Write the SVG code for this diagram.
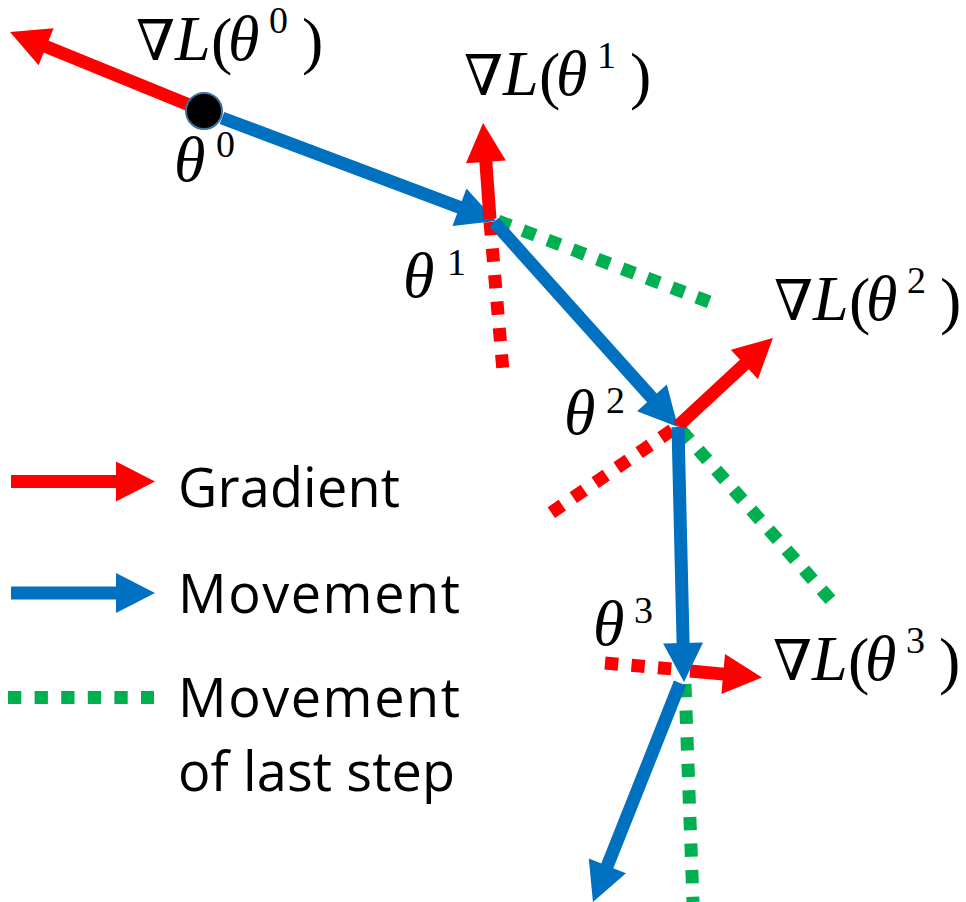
<svg xmlns="http://www.w3.org/2000/svg" width="966" height="902" viewBox="0 0 966 902">
<defs>
<style>
.grad{stroke:#FF0000;stroke-width:13;fill:none;marker-end:url(#hr)}
.move{stroke:#0070C0;stroke-width:13;fill:none;marker-end:url(#hb)}
.rdot{stroke:#FF0000;stroke-width:13;fill:none;stroke-dasharray:13.3 13.3}
.gdot{stroke:#00B050;stroke-width:13;fill:none;stroke-dasharray:13.3 13.3}
.math{font-family:"Liberation Serif","DejaVu Serif",serif;font-style:italic;font-size:64px;fill:#000}
.nab{font-family:"DejaVu Serif",serif;font-size:56px;font-style:italic}
.up{font-style:normal}
.sup{font-size:38px;font-style:normal}
.leg{font-family:"Open Sans","Liberation Sans",sans-serif;font-size:54px;fill:#000}
</style>
<marker id="hr" markerUnits="userSpaceOnUse" markerWidth="40" markerHeight="40" viewBox="0 0 39 40" refX="1" refY="20" orient="auto"><path d="M0,0 L39,20 L0,40 z" fill="#FF0000"/></marker>
<marker id="hb" markerUnits="userSpaceOnUse" markerWidth="40" markerHeight="40" viewBox="0 0 39 40" refX="1" refY="20" orient="auto"><path d="M0,0 L39,20 L0,40 z" fill="#0070C0"/></marker>
</defs>
<rect width="966" height="902" fill="#FFFFFF"/>
<g id="connectors">
<line class="rdot" x1="490" y1="222" x2="503" y2="371"/>
<line class="gdot" x1="498" y1="221" x2="712" y2="303"/>
<line class="rdot" x1="672" y1="430" x2="548" y2="515"/>
<line class="gdot" x1="681" y1="430" x2="836" y2="606"/>
<line class="rdot" x1="605" y1="663" x2="684" y2="670"/>
<line class="gdot" x1="685" y1="684" x2="693" y2="902"/>
<line class="grad" x1="204" y1="111" x2="45.2" y2="46.3"/>
<line class="move" x1="222" y1="118" x2="460.4" y2="207.6"/>
<line class="move" x1="494" y1="222" x2="652.6" y2="398.7"/>
<line class="grad" x1="490" y1="219" x2="485.8" y2="160.9"/>
<line class="grad" x1="678" y1="426" x2="745.1" y2="363.8"/>
<line class="grad" x1="690" y1="671" x2="724.2" y2="674.1"/>
<line class="move" x1="678" y1="427" x2="683.1" y2="644"/>
<line class="move" x1="680" y1="683" x2="607" y2="866.7"/>
</g>
<g id="theta0">
<circle cx="204" cy="111" r="18" fill="#000000" stroke="#41719C" stroke-width="2"/>
<text class="math"><tspan x="174" y="181">θ</tspan><tspan class="sup" x="216" y="157">0</tspan></text>
</g>
<g id="grad0-label">
<text class="math"><tspan class="nab" x="136" y="60">∇</tspan><tspan x="175" y="60">L</tspan><tspan class="up" x="211" y="62">(</tspan><tspan x="228" y="60">θ</tspan><tspan class="sup" x="269" y="33">0</tspan><tspan class="up" x="302" y="62">)</tspan></text>
</g>
<g id="theta1">
<text class="math"><tspan x="403" y="297">θ</tspan><tspan class="sup" x="447" y="275">1</tspan></text>
</g>
<g id="grad1-label" transform="translate(328,35)">
<text class="math"><tspan class="nab" x="136" y="60">∇</tspan><tspan x="175" y="60">L</tspan><tspan class="up" x="211" y="62">(</tspan><tspan x="228" y="60">θ</tspan><tspan class="sup" x="269" y="33">1</tspan><tspan class="up" x="302" y="62">)</tspan></text>
</g>
<g id="theta2">
<text class="math"><tspan x="564" y="434">θ</tspan><tspan class="sup" x="606" y="413">2</tspan></text>
</g>
<g id="grad2-label" transform="translate(638,260)">
<text class="math"><tspan class="nab" x="136" y="60">∇</tspan><tspan x="175" y="60">L</tspan><tspan class="up" x="211" y="62">(</tspan><tspan x="228" y="60">θ</tspan><tspan class="sup" x="269" y="33">2</tspan><tspan class="up" x="302" y="62">)</tspan></text>
</g>
<g id="theta3">
<text class="math"><tspan x="593" y="645">θ</tspan><tspan class="sup" x="634" y="623">3</tspan></text>
</g>
<g id="grad3-label" transform="translate(637,620)">
<text class="math"><tspan class="nab" x="136" y="60">∇</tspan><tspan x="175" y="60">L</tspan><tspan class="up" x="211" y="62">(</tspan><tspan x="228" y="60">θ</tspan><tspan class="sup" x="269" y="33">3</tspan><tspan class="up" x="302" y="62">)</tspan></text>
</g>
<g id="legend">
<line class="grad" x1="11" y1="481.5" x2="117" y2="481.5"/>
<text class="leg" x="178" y="507" textLength="222">Gradient</text>
<line class="move" x1="11" y1="593" x2="117" y2="593"/>
<text class="leg" x="178" y="613" textLength="282">Movement</text>
<line class="gdot" x1="8" y1="697.5" x2="154" y2="697.5"/>
<text class="leg" x="178" y="717" textLength="282">Movement</text>
<text class="leg" x="178" y="791" textLength="277">of last step</text>
</g>
</svg>
